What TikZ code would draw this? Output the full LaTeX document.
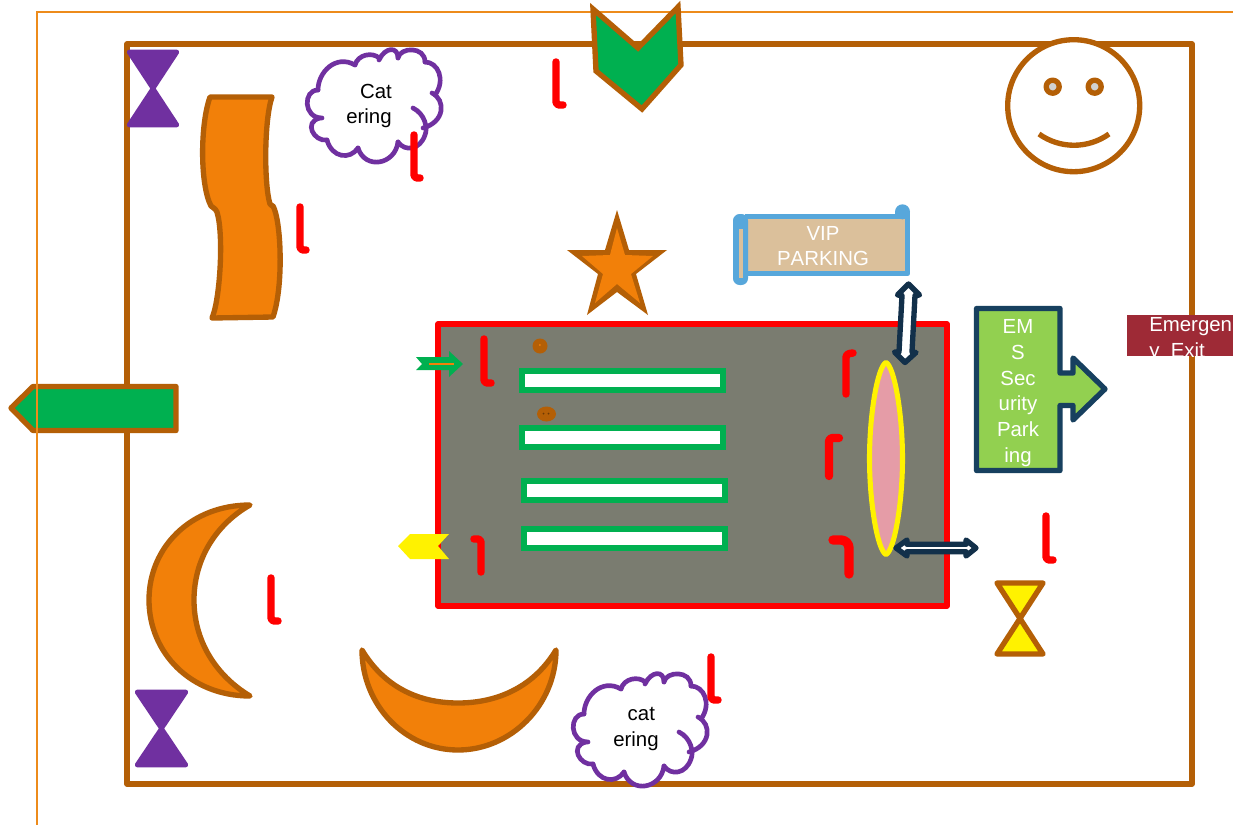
\documentclass[tikz,border=0pt]{standalone}
\usepackage{fontspec}
\setmainfont[Kerning=Off]{Liberation Sans}
\definecolor{brn}{HTML}{B45F06}
\definecolor{org}{HTML}{F28009}
\definecolor{bordero}{HTML}{ED8B1B}
\definecolor{pur}{HTML}{7030A0}
\definecolor{grn}{HTML}{00B050}
\definecolor{slategray}{HTML}{7A7C70}
\definecolor{scrollblue}{HTML}{57A7DB}
\definecolor{tan}{HTML}{DBC09B}
\definecolor{navy}{HTML}{12304A}
\definecolor{teal}{HTML}{17405F}
\definecolor{lime}{HTML}{92D050}
\definecolor{wine}{HTML}{9E2A36}
\definecolor{pinkfill}{HTML}{E59CA7}
\tikzset{
  x=0.75pt,y=-0.75pt,
  brownline/.style={draw=brn,line width=4pt,line join=round},
  orangeshape/.style={brownline,fill=org},
  greenshape/.style={draw=brn,line width=4pt,fill=grn},
  hourglasspurple/.style={draw=pur,line width=3.4pt,fill=pur,line join=round},
  bar/.style={draw=grn,line width=3.9pt,fill=white},
  redmark/.style={draw=red,line width=5.6pt,line cap=round,line join=round,rounded corners=2.5pt},
  cloudline/.style={draw=pur,line width=3.5pt,line cap=round},
  dbl/.style={draw=navy,line width=4pt,fill=white,line join=round},
  label/.style={font=\fontsize{15.3}{19.3}\selectfont,inner sep=0pt,align=center},
}
\newcommand{\cateringcloud}[2]{%
  \begin{scope}[shift={(#1,#2)}]
    \path[fill=white] (318,90) .. controls (318,72) and (336,54) .. (355,65)
      .. controls (358,54) and (373,52) .. (379,58)
      .. controls (385,47) and (398,46) .. (398,58)
      .. controls (400,47) and (425,46) .. (425,62)
      .. controls (438,62) and (446,80) .. (435,95)
      .. controls (446,100) and (445,122) .. (423,128)
      -- (425,135) .. controls (420,150) and (405,152) .. (398,142)
      .. controls (395,165) and (365,170) .. (358,148)
      .. controls (350,160) and (332,158) .. (327,140)
      .. controls (314,142) and (303,122) .. (320,118)
      .. controls (303,118) and (303,90) .. (318,90) -- cycle;
    \draw[cloudline] (318,90) .. controls (318,72) and (336,54) .. (355,65);
    \draw[cloudline] (355,65) .. controls (358,54) and (373,52) .. (379,58);
    \draw[cloudline] (379,60) .. controls (385,47) and (398,46) .. (398,58);
    \draw[cloudline] (398,58) .. controls (400,47) and (425,46) .. (425,62);
    \draw[cloudline] (425,62) .. controls (438,62) and (446,80) .. (435,95);
    \draw[cloudline] (432,93) .. controls (446,100) and (445,122) .. (423,128);
    \draw[cloudline] (413,108) .. controls (425,114) and (428,128) .. (425,135) .. controls (420,150) and (405,152) .. (398,142);
    \draw[cloudline] (398,142) .. controls (395,165) and (365,170) .. (358,148);
    \draw[cloudline] (358,148) .. controls (350,160) and (332,158) .. (327,140);
    \draw[cloudline] (327,140) .. controls (314,142) and (303,122) .. (320,118);
    \draw[cloudline] (322,118) .. controls (303,118) and (303,90) .. (318,90);
  \end{scope}}
\begin{document}
\begin{tikzpicture}
\useasboundingbox (0,0) rectangle (1233,825);
\fill[white] (0,0) rectangle (1233,825);
% outer frames
\draw[brownline] (127,44) rectangle (1192,784);
\draw[greenshape,line join=round] (176,386.5) -- (33,386.5) -- (11,408) -- (33,430.5) -- (176,430.5) -- cycle;
\draw[bordero,line width=1.5pt] (1233,11.5) -- (36.5,11.5) -- (36.5,825);
% top chevron
\draw[greenshape,miter limit=10] (593,9) -- (638,48) -- (678,7) -- (681,65) -- (642,109) -- (596,71) -- cycle;
% hourglasses
\draw[hourglasspurple] (129,52) -- (177,52) -- (129,125) -- (177,125) -- cycle;
\draw[hourglasspurple] (137,692) -- (186,692) -- (137,765) -- (186,765) -- cycle;
\draw[orangeshape,fill=yellow] (997,583) -- (1043,583) -- (997,654) -- (1043,654) -- cycle;
% wave
\draw[orangeshape] (272,97) .. controls (264,120) and (264,185) .. (270,204) .. controls (271,205) and (272,206) .. (273,206)
  .. controls (281,220) and (284,285) .. (273,317) -- (212,318)
  .. controls (220,300) and (224,235) .. (217,212) .. controls (215,208) and (213,208) .. (211,206)
  .. controls (200,185) and (200,125) .. (210,97) -- cycle;
% clouds
\cateringcloud{0}{0}
\cateringcloud{266}{624}
\node[label] (cat1) at (369,106) {\kern10.5pt Cat\\ering};
\node[label] (cat2) at (636,729) {\kern8pt cat\\ering};
% star
\fill[brn] (617,210) -- (629,250) -- (667,250) -- (636,274) -- (648,315) -- (617,292) -- (587,315) -- (598,274) -- (567,250) -- (605,250) -- cycle;
\fill[org] (617,228) -- (625,255) -- (653,256) -- (631,274) -- (640,303) -- (617,284) -- (595,303) -- (603,274) -- (582,256) -- (610,255) -- cycle;
% smiley
\draw[brownline,fill=white] (1073.7,105.7) circle[radius=66];
\draw[brownline,fill=black!18] (1052.7,86.7) circle[radius=6.5];
\draw[brownline,fill=black!18] (1094.7,86.7) circle[radius=6.5];
\draw[brownline] (1039,134) .. controls (1060,149) and (1088,149) .. (1109,134);
% moons
\draw[orangeshape] (250,505) .. controls (191,505) and (149,547) .. (149,600) .. controls (149,653) and (191,696) .. (250,696)
  .. controls (215,675) and (194,640) .. (194,600) .. controls (194,560) and (215,525) .. (250,505) -- cycle;
\draw[orangeshape] (362,650) .. controls (362,705) and (405,750) .. (458,750) .. controls (511,750) and (556,705) .. (556,650)
  .. controls (535,685) and (500,703) .. (458,703) .. controls (416,703) and (383,685) .. (362,650) -- cycle;
% central block
\draw[draw=red,fill=slategray,line width=4pt,line join=round] (438,324) rectangle (947,606);
\draw[bar] (522,371) rectangle (723,390);
\draw[bar] (522,428) rectangle (723,447);
\draw[bar] (524,481) rectangle (725,500);
\draw[bar] (524,529) rectangle (725,548);
\fill[brn] (540,346) circle[radius=7.5];
\fill[org] (539.8,345) circle[radius=1];
\fill[brn] (546.5,414) ellipse[x radius=9.5,y radius=7.5];
\fill[brn!60!black] (543.5,413.5) circle[radius=1];
\fill[brn!60!black] (548.5,413.5) circle[radius=1];
% small arrows on the block edge
\fill[grn] (416,357) -- (422,364) -- (416,370) -- (449,370) -- (449,377) -- (463,364) -- (449,351) -- (449,357) -- cycle;
\draw[org,line width=0.8pt] (429,364) -- (454,364);
\fill[yellow] (398,546) -- (410,534) -- (449,534) -- (438,546) -- (449,559) -- (410,559) -- cycle;
% red marks
\draw[redmark] (556,62) -- (556,105) -- (563,105);
\draw[redmark] (414,135) -- (414,178) -- (420,178);
\draw[redmark] (300,207) -- (300,250) -- (306,250);
\draw[redmark] (484,339) -- (484,383) -- (491,383);
\draw[redmark] (271,578) -- (271,621) -- (278,621);
\draw[redmark] (1046,516) -- (1046,560) -- (1053,560);
\draw[redmark] (711,657) -- (711,700) -- (718,700);
\draw[redmark] (846,394) -- (846,354) -- (853,353);
\draw[redmark,line width=6.2pt] (829,476) -- (829,438) -- (839,438);
\draw[redmark,line width=7pt,rounded corners=6pt] (849,574) -- (849,540) -- (833,540);
\draw[redmark] (481,572) -- (481,539) -- (474,539);
% lens
\draw[draw=yellow,fill=pinkfill,line width=3.8pt,line join=round] (886,362.5) .. controls (878,366) and (869.5,412) .. (869.5,458.5) .. controls (869.5,505) and (878,551) .. (886,554.5) .. controls (894,551) and (902.5,505) .. (902.5,458.5) .. controls (902.5,412) and (894,366) .. (886,362.5) -- cycle;
% double arrows
\draw[dbl] (908.5,284) -- (919.5,295) -- (915,295.5) -- (912,352) -- (916,352.5) -- (905,362.5) -- (894.5,352) -- (899,352) -- (902,295.5) -- (897.5,295) -- cycle;
\draw[dbl] (896,548) -- (907,540) -- (907,544.3) -- (966,544.3) -- (966,540) -- (976,548) -- (966,556) -- (966,551.7) -- (907,551.7) -- (907,556) -- cycle;
% VIP scroll
\fill[tan] (745,219) rectangle (905,272);
\fill[scrollblue,rounded corners=5pt] (733,214) rectangle (748,285);
\fill[tan] (739,229) rectangle (743,278);
\draw[scrollblue,line width=4pt,line join=round] (745,216.5) -- (907.5,216.5) -- (907.5,273.5) -- (745,273.5);
\fill[scrollblue] (902.5,211.8) circle[radius=7.5];
\fill[scrollblue] (895,212) rectangle (910,219);
\node[label,text=white] (vip) at (823,246) {VIP\\PARKING};
% EMS arrow
\draw[draw=teal,fill=lime,line width=4pt,line join=round] (976.5,308.5) -- (1060,308.5) -- (1060,373) -- (1073,373) -- (1073,358) -- (1105,389) -- (1073,420) -- (1073,405.5) -- (1060,405.5) -- (1060,470.5) -- (976.5,470.5) -- cycle;
\node[label,text=white] (ems) at (1018,393) {EM\\S\\Sec\\urity\\Park\\ing};
% emergency exit
\fill[wine] (1127,315) rectangle (1240,355.5);
\node[label,text=white,align=left,anchor=west] (exit) at (1149,339.5) {Emergen\\y\ \ Exit};
\end{tikzpicture}
\end{document}
